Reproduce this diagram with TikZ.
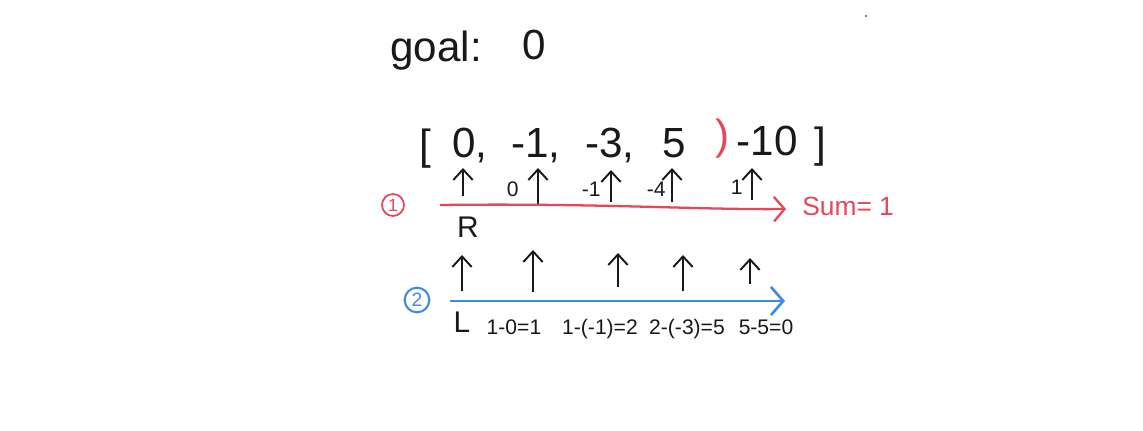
\documentclass[tikz,border=0pt]{standalone}
\usepackage{fontspec}
\setmainfont{Liberation Sans}
\usetikzlibrary{arrows.meta}
\definecolor{penred}{RGB}{232,70,90}
\definecolor{penblue}{RGB}{60,140,230}
\definecolor{ink}{RGB}{25,25,25}
\tikzset{
  big/.style={font=\fontsize{24}{26}\selectfont, text=ink, inner sep=0pt},
  mid/.style={font=\fontsize{17}{19}\selectfont, text=ink, inner sep=0pt},
  small/.style={font=\fontsize{12}{14}\selectfont, text=ink, inner sep=0pt},
  uparrow/.style={draw=ink, line width=1.1pt, -{Straight Barb[length=6pt,width=11pt]}},
  redline/.style={draw=penred, line width=1.3pt, -{Straight Barb[length=6pt,width=14pt]}},
  blueline/.style={draw=penblue, line width=1.5pt, -{Straight Barb[length=7pt,width=16pt]}},
}
\begin{document}
\begin{tikzpicture}[x=0.02cm,y=-0.02cm]
\useasboundingbox (0,0) rectangle (1143,431);
\fill[white] (0,0) rectangle (1143,431);
% goal
\node[big, anchor=base west] (goal) at (390,62) {goal:};
\node[big, anchor=base west] (goalv) at (522,60) {0};
% array
\node[big, anchor=base] (lb) at (425,160) {[};
\node[big, anchor=base] (a0) at (470,158) {0,};
\node[big, anchor=base] (a1) at (536,158) {-1,};
\node[big, anchor=base] (a2) at (610,158) {-3,};
\node[big, anchor=base] (a3) at (674,158) {5};
\node[big, anchor=base, text=penred] (rp) at (723,150) {)};
\node[big, anchor=base] (a4) at (767,156) {-10};
\node[big, anchor=base] (rb) at (820,158) {]};
% row 1 arrows
\foreach \n/\x/\t/\b in {p0/463/168/196, p1/538/168/206, p2/611/170/202, p3/672/168/202, p4/752/168/200}{
  \coordinate (\n s) at (\x,\b);
  \coordinate (\n e) at (\x,\t);
  \draw[uparrow] (\n s) -- (\n e);
}
\node[small, anchor=base east] (s1) at (519,197) {0};
\node[small, anchor=base east] (s2) at (601,197) {-1};
\node[small, anchor=base east] (s3) at (666,197) {-4};
\node[small, anchor=base east] (s4) at (743,195) {1};
% red pass
\node[circle, draw=penred, line width=1pt, inner sep=1.3pt, font=\fontsize{10}{10}\selectfont, text=penred] (c1) at (393,205) {1};
\coordinate (r0) at (440,205);
\coordinate (r1) at (786,209);
\draw[redline] (r0) .. controls (600,203) and (700,210) .. (r1);
\node[font=\fontsize{15}{17}\selectfont, inner sep=0pt, anchor=west, text=penred] (sum) at (802,206) {Sum= 1};
\node[mid, anchor=base] (R) at (468,238) {R};
% row 2 arrows
\foreach \n/\x/\t/\b in {q0/462/255/291, q1/533/250/292, q2/618/253/287, q3/683/255/291, q4/750/258/284}{
  \coordinate (\n s) at (\x,\b);
  \coordinate (\n e) at (\x,\t);
  \draw[uparrow] (\n s) -- (\n e);
}
% blue pass
\node[circle, draw=penblue, line width=1.2pt, inner sep=1.5pt, font=\fontsize{11}{11}\selectfont, text=penblue] (c2) at (417,300) {2};
\coordinate (b0) at (450,301);
\coordinate (b1) at (785,301);
\draw[blueline] (b0) -- (b1);
\node[mid, anchor=base] (L) at (462,333) {L};
\node[small, anchor=base] (e1) at (514,335) {1-0=1};
\node[small, anchor=base] (e2) at (600,335) {1-(-1)=2};
\node[small, anchor=base] (e3) at (687,335) {2-(-3)=5};
\node[small, anchor=base] (e4) at (766,335) {5-5=0};
\fill[ink!70] (866,16) circle (1.2);
\end{tikzpicture}
\end{document}
